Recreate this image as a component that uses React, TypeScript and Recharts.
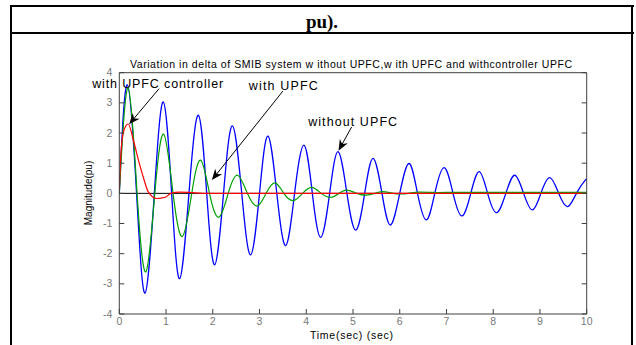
import React from 'react';
import { LineChart, Line, XAxis, YAxis, ReferenceLine, ReferenceDot } from 'recharts';

// Without UPFC (blue)
const blueT = [0, 0.17, 0.37, 0.55, 0.75, 0.94, 1.12, 1.29, 1.49, 1.69, 1.87, 2.04, 2.23, 2.42, 2.62, 2.81, 3.0, 3.18, 3.37, 3.56, 3.75, 3.95, 4.13, 4.31, 4.5, 4.68, 4.87, 5.06, 5.25, 5.43, 5.62, 5.8, 6.0, 6.2, 6.38, 6.57, 6.75, 6.95, 7.14, 7.33, 7.52, 7.7, 7.88, 8.07, 8.27, 8.46, 8.65, 8.84, 9.02, 9.21, 9.4, 9.59, 9.78, 9.97, 10];
const blueV = [0, 3.6, 0, -3.31, 0, 3.03, 0, -2.83, 0, 2.59, 0, -2.37, 0, 2.24, 0, -2.04, 0, 1.9, 0, -1.73, 0, 1.6, 0, -1.46, 0, 1.38, 0, -1.22, 0, 1.16, 0, -1.05, 0, 0.99, 0, -0.88, 0, 0.85, 0, -0.75, 0, 0.72, 0, -0.64, 0, 0.6, 0, -0.55, 0, 0.52, 0, -0.44, 0, 0.44, 0.43];

// With UPFC (green)
const greenT = [0, 0.19, 0.38, 0.57, 0.76, 0.95, 1.15, 1.35, 1.55, 1.74, 1.93, 2.13, 2.33, 2.53, 2.74, 2.95, 3.14, 3.33, 3.52, 3.72, 3.92, 4.12, 4.32, 4.52, 4.7, 4.87, 5.08, 5.29, 5.46, 5.63, 5.83, 6.02, 6.22, 6.42, 6.7, 7.0, 8.0, 9.0, 10];
const greenV = [0, 3.5, 0, -2.6, 0, 1.96, 0, -1.43, 0, 1.1, 0, -0.79, 0, 0.6, 0, -0.42, 0, 0.35, 0, -0.24, 0, 0.2, 0, -0.13, 0, 0.11, 0, -0.06, 0, 0.06, 0.01, -0.02, 0.01, 0.04, 0.03, 0.03, 0.03, 0.03, 0.03];

// With UPFC controller (red)
const redT = [0, 0.04, 0.1, 0.19, 0.3, 0.41, 0.52, 0.62, 0.8, 1.0, 1.1, 1.3, 1.5, 1.8, 2.5, 10];
const redV = [0.1, 1.44, 2.1, 2.3, 1.77, 1.1, 0.5, 0.05, -0.17, -0.12, 0, 0.04, 0.03, 0, 0, 0];

const xTicks = [0, 1, 2, 3, 4, 5, 6, 7, 8, 9, 10];
const yTicks = [-4, -3, -2, -1, 0, 1, 2, 3, 4];

const annotations = [
  { text: 'with UPFC controller', x: -0.58, y: 3.48, width: 131 },
  { text: 'with UPFC', x: 2.77, y: 3.42, width: 69 },
  { text: 'without UPFC', x: 4.04, y: 2.23, width: 89 },
];
const arrows = [
  { x1: 0.85, y1: 3.47, x2: 0.21, y2: 2.29 },
  { x1: 3.5, y1: 3.39, x2: 1.98, y2: 0.44 },
  { x1: 4.97, y1: 2.2, x2: 4.69, y2: 1.41 },
];

const zip = (t: number[], v: number[]) => t.map((x, i) => ({ t: x, v: v[i] }));
const blueData = zip(blueT, blueV);
const greenData = zip(greenT, greenV);
const redData = zip(redT, redV);

const FONT = '"Liberation Sans", Arial, sans-serif';
const AXIS = '#404040';
const TICKTXT = '#777777';
const TL = 5;

const BottomTick = (p: any) => (
  <g>
    <line x1={p.x} y1={p.y} x2={p.x} y2={p.y - TL} stroke={AXIS} />
    <text x={p.x} y={p.y + 11} textAnchor="middle" fill={TICKTXT} fontSize={10.5} fontFamily={FONT}>{p.payload.value}</text>
  </g>
);
const TopTick = (p: any) => <line x1={p.x} y1={p.y} x2={p.x} y2={p.y + TL} stroke={AXIS} />;
const LeftTick = (p: any) => (
  <g>
    <line x1={p.x} y1={p.y} x2={p.x + TL} y2={p.y} stroke={AXIS} />
    <text x={p.x - 7} y={p.y + 3.5} textAnchor="end" fill={TICKTXT} fontSize={10.5} fontFamily={FONT}>{p.payload.value}</text>
  </g>
);
const RightTick = (p: any) => <line x1={p.x} y1={p.y} x2={p.x - TL} y2={p.y} stroke={AXIS} />;

const ArrowShape = (p: any) => {
  const { x1, y1, x2, y2 } = p;
  const dx = x2 - x1;
  const dy = y2 - y1;
  const len = Math.sqrt(dx * dx + dy * dy) || 1;
  const ux = dx / len;
  const uy = dy / len;
  const L = 11;
  const W = 4.5;
  const bx = x2 - ux * L;
  const by = y2 - uy * L;
  const pts = `${x2},${y2} ${bx - uy * W},${by + ux * W} ${x2 - ux * L * 0.7},${y2 - uy * L * 0.7} ${bx + uy * W},${by - ux * W}`;
  return (
    <g>
      <line x1={x1} y1={y1} x2={x2 - ux * 6} y2={y2 - uy * 6} stroke="#000" strokeWidth={1} />
      <polygon points={pts} fill="#000" />
    </g>
  );
};

export default function App() {
  return (
    <div style={{ position: 'fixed', left: 0, top: 0, width: 636, height: 345, background: '#fff', overflow: 'hidden' }}>
      <div style={{ position: 'absolute', left: 0, top: 0 }}>
        <LineChart width={636} height={345} margin={{ top: 71.7, left: 118.3, right: 48.3, bottom: 30 }}>
          <XAxis xAxisId="b" dataKey="t" type="number" domain={[0, 10]} ticks={xTicks} interval={0} allowDataOverflow
            height={1} tickLine={false} tickSize={0} tickMargin={0} axisLine={{ stroke: AXIS }} tick={BottomTick} />
          <XAxis xAxisId="top" orientation="top" type="number" domain={[0, 10]} ticks={xTicks} interval={0} allowDataOverflow
            height={1} tickLine={false} tickSize={0} tickMargin={0} axisLine={{ stroke: AXIS }} tick={TopTick} />
          <YAxis yAxisId="l" type="number" domain={[-4, 4]} ticks={yTicks} interval={0} allowDataOverflow
            width={1} tickLine={false} tickSize={0} tickMargin={0} axisLine={{ stroke: AXIS }} tick={LeftTick} />
          <YAxis yAxisId="r" orientation="right" type="number" domain={[-4, 4]} ticks={yTicks} interval={0} allowDataOverflow
            width={1} tickLine={false} tickSize={0} tickMargin={0} axisLine={{ stroke: AXIS }} tick={RightTick} />
          <ReferenceLine xAxisId="b" yAxisId="l" y={0} stroke="#000" strokeWidth={1} />
          <Line xAxisId="b" yAxisId="l" data={blueData} dataKey="v" type="natural" stroke="#0000ff" strokeWidth={1.3} dot={false} isAnimationActive={false} />
          <Line xAxisId="b" yAxisId="l" data={greenData} dataKey="v" type="natural" stroke="#00a000" strokeWidth={1.2} dot={false} isAnimationActive={false} />
          <Line xAxisId="b" yAxisId="l" data={redData} dataKey="v" type="monotone" stroke="#ff0000" strokeWidth={1.2} dot={false} isAnimationActive={false} />
          {arrows.map((a, i) => (
            <ReferenceLine key={'a' + i} xAxisId="b" yAxisId="l" ifOverflow="visible"
              segment={[{ x: a.x1, y: a.y1 }, { x: a.x2, y: a.y2 }]} shape={ArrowShape} />
          ))}
          {annotations.map((a, i) => (
            <ReferenceDot key={'t' + i} xAxisId="b" yAxisId="l" x={a.x} y={a.y} r={0} ifOverflow="visible"
              shape={(p: any) => (
                <text x={p.cx} y={p.cy} fontFamily={FONT} fontSize={12.5} fill="#000" textLength={a.width} lengthAdjust="spacing">{a.text}</text>
              )} />
          ))}
        </LineChart>
      </div>
      <svg width={636} height={345} style={{ position: 'absolute', left: 0, top: 0, pointerEvents: 'none' }}>
        <rect x={10} y={5} width={624} height={2} fill="#000" />
        <rect x={10} y={32} width={624} height={2} fill="#000" />
        <rect x={10} y={5} width={2} height={345} fill="#000" />
        <rect x={631} y={5} width={2} height={345} fill="#000" />
        <text x={322} y={28} textAnchor="middle" fontFamily='"Liberation Serif", "Times New Roman", serif' fontWeight="bold" fontSize={19} fill="#000">pu).</text>
        <text x={130} y={68} fontFamily={FONT} fontSize={10.5} fill="#000" textLength={442} lengthAdjust="spacing">Variation in delta of SMIB system w ithout UPFC,w ith UPFC and withcontroller UPFC</text>
        <text x={310} y={339} fontFamily={FONT} fontSize={10.5} fill="#000" textLength={83} lengthAdjust="spacing">Time(sec) (sec)</text>
        <text x={88} y={193} transform="rotate(-90, 88, 193)" textAnchor="middle" dominantBaseline="central" fontFamily={FONT} fontSize={10} fill="#000">Magnitude(pu)</text>
      </svg>
    </div>
  );
}
